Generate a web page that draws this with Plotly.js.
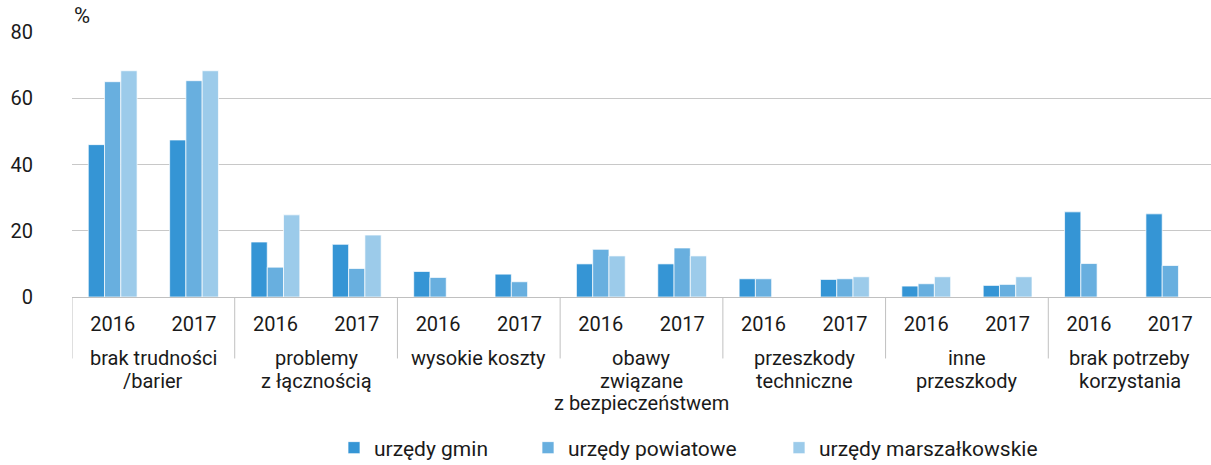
<!DOCTYPE html>
<html>
<head>
<meta charset="utf-8">
<script src="https://cdn.plot.ly/plotly-3.0.1.min.js"></script>
<style>
  html, body { margin: 0; padding: 0; background: #fff; }
  #chart { width: 1211px; height: 465px; }
</style>
</head>
<body>
<div id="chart"></div>
<script>
const groups = [
  "brak trudności<br>/barier",
  "problemy<br>z łącznością",
  "wysokie koszty",
  "obawy<br>związane<br>z bezpieczeństwem",
  "przeszkody<br>techniczne",
  "inne<br>przeszkody",
  "brak potrzeby<br>korzystania"
];
const years = ["2016", "2017"];
const seriesNames = ["urzędy gmin", "urzędy powiatowe", "urzędy marszałkowskie"];
// values in order: group1 2016, group1 2017, group2 2016, ...
const gmin = [46.0, 47.4, 16.6, 15.9, 7.7, 6.9, 10.0, 10.0, 5.5, 5.3, 3.3, 3.5, 25.7, 25.1];
const powiatowe = [65.0, 65.3, 9.0, 8.6, 5.9, 4.6, 14.4, 14.8, 5.5, 5.5, 4.0, 3.8, 10.1, 9.5];
const marszalkowskie = [68.3, 68.3, 24.8, 18.7, null, null, 12.4, 12.4, null, 6.1, 6.1, 6.1, null, null];
const colors = ["#3595d5", "#68afdf", "#9ccbea"];
const yTicks = [0, 20, 40, 60, 80];

// slot positions on a numeric axis: each year occupies one unit
const slotX = [], slotText = [];
groups.forEach((g, gi) => years.forEach((y, yi) => { slotX.push(gi * years.length + yi + 0.5); slotText.push(y); }));

const font = "Roboto, 'Noto Sans', sans-serif";
const textColor = "#1a1a1a";
const legendIds = ["legend", "legend2", "legend3"];
const data = [gmin, powiatowe, marszalkowskie].map((vals, i) => ({
  type: "bar",
  name: seriesNames[i],
  x: slotX,
  y: vals,
  legend: legendIds[i],
  marker: { color: colors[i], line: { color: "rgba(255,255,255,0.7)", width: 1 } },
  hoverinfo: "y+name"
}));

const nSlots = groups.length * years.length;
const shapes = [];
for (let gi = 0; gi < groups.length; gi++) {
  shapes.push({
    type: "line", xref: "x", yref: "paper",
    x0: gi * years.length, x1: gi * years.length, y0: 0, y1: -0.232,
    line: { color: "#c0c0c0", width: 1 }
  });
}

const annotations = [{
  text: "%", xref: "paper", yref: "paper", x: 0, y: 1, xanchor: "left", yanchor: "middle",
  xshift: 0, yshift: 17, showarrow: false, font: { size: 22, color: textColor }
}];
groups.forEach((g, gi) => {
  g.split("<br>").forEach((line, li) => {
    annotations.push({
      text: line, xref: "x", yref: "paper",
      x: gi * years.length + years.length / 2, y: 0,
      xanchor: "center", yanchor: "middle", yshift: -61 - 22.5 * li,
      showarrow: false, font: { size: 20, color: textColor }
    });
  });
});

const legendLeft = [334, 528, 779];
const layout = {
  width: 1211, height: 465,
  margin: { l: 72, r: 0, t: 32, b: 168, autoexpand: false },
  paper_bgcolor: "#fff", plot_bgcolor: "#fff",
  font: { family: font, size: 20, color: textColor },
  barmode: "group",
  bargap: 0.4,
  bargroupgap: 0,
  showlegend: true,
  xaxis: {
    range: [0, nSlots],
    tickvals: slotX, ticktext: slotText,
    showline: true, linecolor: "#c0c0c0", linewidth: 1,
    ticks: "", showgrid: false, zeroline: false,
    ticklabelstandoff: 9,
    tickfont: { size: 20 }
  },
  yaxis: {
    range: [0, 80], tickvals: yTicks, ticktext: yTicks.map(String),
    showgrid: true, gridcolor: "#c8c8c8", gridwidth: 1,
    zeroline: false, showline: false, ticks: "",
    ticklabelstandoff: 38,
    tickfont: { size: 20 }
  },
  shapes: shapes,
  annotations: annotations
};
legendIds.forEach((id, i) => {
  layout[id] = {
    orientation: "h", xref: "container", yref: "container",
    x: legendLeft[i] / 1211, xanchor: "left", y: 1 - 448 / 465, yanchor: "middle",
    font: { size: 21 }, bgcolor: "rgba(0,0,0,0)"
  };
});

Plotly.newPlot("chart", data, layout, { displayModeBar: false, staticPlot: true });
</script>
</body>
</html>
